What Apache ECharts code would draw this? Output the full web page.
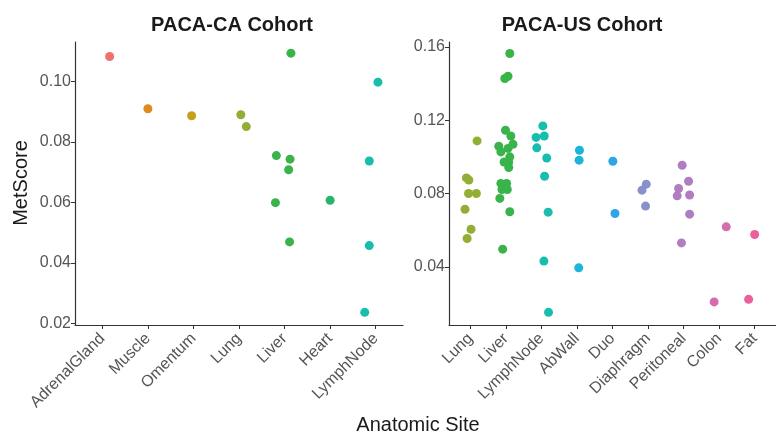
<!DOCTYPE html>
<html>
<head>
<meta charset="utf-8">
<script src="https://cdn.jsdelivr.net/npm/echarts@6/dist/echarts.min.js"></script>
<style>html,body{margin:0;padding:0;background:#fff}#c{width:776px;height:437px}</style>
</head>
<body>
<div id="c"></div>
<script>
// Categories
const caCats = ['AdrenalGland','Muscle','Omentum','Lung','Liver','Heart','LymphNode'];
const usCats = ['Lung','Liver','LymphNode','AbWall','Duo','Diaphragm','Peritoneal','Colon','Fat'];
const caTicks = [0.02, 0.04, 0.06, 0.08, 0.10];
const usTicks = [0.04, 0.08, 0.12, 0.16];
// Site colours
const siteNames  = ['AdrenalGland','Muscle','Omentum','Lung','Liver','Heart','LymphNode','AbWall','Duo','Diaphragm','Peritoneal','Colon','Fat'];
const siteColors = ['#EF716C','#DE8A1E','#C4A021','#93AE35','#39B44A','#27B46C','#18BDAE','#1AB5D8','#2FA5E6','#8A90CA','#B07EC0','#D66BAF','#EC5F9D'];

// PACA-CA values: [jitter, MetScore]
const ca_AdrenalGland = [[0.16,0.1083]];
const ca_Muscle       = [[0.00,0.0910]];
const ca_Omentum      = [[-0.04,0.0887]];
const ca_Lung         = [[0.04,0.0890],[0.16,0.0851]];
const ca_Liver        = [[0.14,0.1094],[-0.18,0.0755],[0.12,0.0743],[0.09,0.0708],[-0.20,0.0599],[0.11,0.0469]];
const ca_Heart        = [[0.00,0.0607]];
const ca_LymphNode    = [[0.05,0.0998],[-0.14,0.0737],[-0.14,0.0457],[-0.24,0.0236]];

// PACA-US values: [jitter, MetScore]
const us_Lung = [[-0.11,0.0885],[-0.04,0.0873],[-0.05,0.0800],[0.17,0.0800],[-0.15,0.0714],[0.02,0.0605],[-0.09,0.0554],[0.19,0.1087]];
const us_Liver = [[0.11,0.1564],[-0.03,0.1428],[0.06,0.1440],[-0.01,0.1145],[0.14,0.1114],[0.20,0.1069],[-0.20,0.1058],[-0.14,0.1027],[0.06,0.1046],[0.11,0.1000],[-0.05,0.0972],[0.08,0.0972],[0.08,0.0942],[-0.14,0.0855],[0.02,0.0855],[-0.11,0.0822],[0.04,0.0822],[-0.17,0.0773],[0.11,0.0700],[-0.09,0.0496]];
const us_LymphNode = [[-0.15,0.1106],[0.08,0.1114],[0.04,0.1169],[-0.13,0.1049],[0.15,0.0994],[0.09,0.0894],[0.19,0.0698],[0.07,0.0431],[0.20,0.0151]];
const us_AbWall = [[0.07,0.1036],[0.06,0.0982],[0.05,0.0394]];
const us_Duo = [[0.01,0.0976],[0.07,0.0691]];
const us_Diaphragm = [[-0.17,0.0818],[-0.05,0.0851],[-0.07,0.0731]];
const us_Peritoneal = [[-0.04,0.0954],[-0.14,0.0827],[-0.18,0.0787],[0.14,0.0867],[0.17,0.0792],[0.17,0.0687],[-0.06,0.0530]];
const us_Colon = [[0.20,0.0618],[-0.14,0.0208]];
const us_Fat = [[0.00,0.0576],[-0.17,0.0222]];

const caData = {AdrenalGland:ca_AdrenalGland, Muscle:ca_Muscle, Omentum:ca_Omentum, Lung:ca_Lung, Liver:ca_Liver, Heart:ca_Heart, LymphNode:ca_LymphNode};
const usData = {Lung:us_Lung, Liver:us_Liver, LymphNode:us_LymphNode, AbWall:us_AbWall, Duo:us_Duo, Diaphragm:us_Diaphragm, Peritoneal:us_Peritoneal, Colon:us_Colon, Fat:us_Fat};

const FONT = 'Liberation Sans, Arial, sans-serif';
const AX = '#333333';
const TXT = '#555555';

function xAxis(idx, cats) {
  const ticks = cats.map((c, i) => i + 1);
  return {
    gridIndex: idx, type: 'value', min: 0.4, max: cats.length + 0.6,
    axisLine: {show: true, onZero: false, lineStyle: {color: AX, width: 1.2}},
    axisTick: {show: true, length: 4, customValues: ticks, lineStyle: {color: AX}},
    axisLabel: {customValues: ticks, rotate: 45, margin: 11, fontSize: 16, color: TXT, fontFamily: FONT,
      formatter: v => cats[Math.round(v) - 1]},
    splitLine: {show: false}
  };
}
function yAxis(idx, min, max, ticks) {
  return {
    gridIndex: idx, type: 'value', min: min, max: max,
    axisLine: {show: true, onZero: false, lineStyle: {color: AX, width: 1.2}},
    axisTick: {show: true, length: 4, customValues: ticks, lineStyle: {color: AX}},
    axisLabel: {customValues: ticks, margin: 4, fontSize: 16, color: TXT, fontFamily: FONT,
      formatter: v => v.toFixed(2)},
    splitLine: {show: false}
  };
}

const series = [];
function addSeries(data, cats, idx) {
  cats.forEach((c, i) => {
    series.push({
      type: 'scatter', xAxisIndex: idx, yAxisIndex: idx, symbolSize: 9,
      itemStyle: {color: siteColors[siteNames.indexOf(c)], opacity: 1},
      data: data[c].map(p => [i + 1 + p[0], p[1]])
    });
  });
}
addSeries(caData, caCats, 0);
addSeries(usData, usCats, 1);

const chart = echarts.init(document.getElementById('c'));
chart.setOption({
  animation: false,
  backgroundColor: '#fff',
  grid: [
    {left: 75, top: 42, width: 328, height: 283},
    {left: 449, top: 42, width: 327, height: 283}
  ],
  xAxis: [xAxis(0, caCats), xAxis(1, usCats)],
  yAxis: [yAxis(0, 0.0194, 0.1131, caTicks), yAxis(1, 0.0082, 0.1627, usTicks)],
  series: series,
  graphic: [
    {type: 'text', x: 232, y: 25, style: {text: 'PACA-CA Cohort', fontSize: 20, fontWeight: 'bold', fontFamily: FONT, fill: '#1a1a1a', textAlign: 'center', textVerticalAlign: 'middle'}},
    {type: 'text', x: 582, y: 25, style: {text: 'PACA-US Cohort', fontSize: 20, fontWeight: 'bold', fontFamily: FONT, fill: '#1a1a1a', textAlign: 'center', textVerticalAlign: 'middle'}},
    {type: 'text', x: 418, y: 425, style: {text: 'Anatomic Site', fontSize: 20, fontFamily: FONT, fill: '#1a1a1a', textAlign: 'center', textVerticalAlign: 'middle'}},
    {type: 'text', x: 21, y: 183, rotation: Math.PI / 2, style: {text: 'MetScore', fontSize: 20, fontFamily: FONT, fill: '#1a1a1a', textAlign: 'center', textVerticalAlign: 'middle'}}
  ]
});
</script>
</body>
</html>
